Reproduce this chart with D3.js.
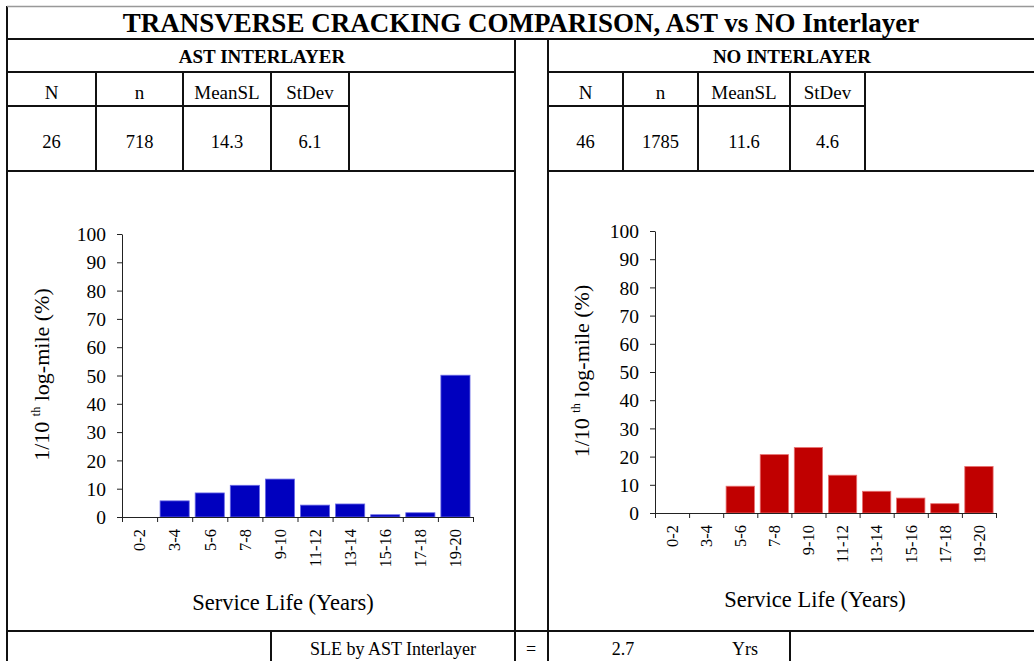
<!DOCTYPE html>
<html>
<head>
<meta charset="utf-8">
<script src="https://cdn.jsdelivr.net/npm/d3@7"></script>
<style>
  body { margin: 0; background: #fff; }
  svg text { font-family: "Liberation Serif", "Times New Roman", serif; fill: #000; }
</style>
</head>
<body>
<div id="app"></div>
<script>
const categories = ['0-2', '3-4', '5-6', '7-8', '9-10', '11-12', '13-14', '15-16', '17-18', '19-20'];
const astValues = [0, 5.7, 8.5, 11.2, 13.4, 4.2, 4.6, 0.8, 1.5, 50.1];
const noValues = [0, 0, 9.5, 20.7, 23.2, 13.4, 7.7, 5.3, 3.3, 16.5];
const yTicks = [0, 10, 20, 30, 40, 50, 60, 70, 80, 90, 100];

const statHeaders = ['N', 'n', 'MeanSL', 'StDev'];
const astStats = ['26', '718', '14.3', '6.1'];
const noStats = ['46', '1785', '11.6', '4.6'];

const width = 1034, height = 661;

const svg = d3.select('#app').append('svg')
  .attr('width', width)
  .attr('height', height);

// table grid
const grid = svg.append('g')
  .attr('stroke', '#111')
  .attr('stroke-width', 2);

const hLines = [
  [7, 1040, 39], [7, 515, 72], [548, 1040, 72],
  [7, 349, 106], [548, 865, 106],
  [7, 515, 171], [548, 1040, 171], [7, 1040, 631]
];
const vLines = [
  [7, 6, 661], [515, 39, 661], [548, 39, 661],
  [96, 72, 171], [183, 72, 171], [271, 72, 171], [349, 72, 171],
  [623, 72, 171], [698, 72, 171], [790, 72, 171], [865, 72, 171],
  [271, 631, 661], [790, 631, 661]
];

svg.append('line')
  .attr('x1', 7).attr('x2', 1034).attr('y1', 6.5).attr('y2', 6.5)
  .attr('stroke', '#999').attr('stroke-width', 1.5);

grid.selectAll('.h').data(hLines).enter().append('line')
  .attr('x1', d => d[0]).attr('x2', d => d[1])
  .attr('y1', d => d[2]).attr('y2', d => d[2]);

grid.selectAll('.v').data(vLines).enter().append('line')
  .attr('x1', d => d[0]).attr('x2', d => d[0])
  .attr('y1', d => d[1]).attr('y2', d => d[2]);

// title and section headings
svg.append('text')
  .attr('x', 521).attr('y', 32)
  .attr('text-anchor', 'middle')
  .style('font-size', '27px').style('font-weight', 'bold')
  .text('TRANSVERSE CRACKING COMPARISON, AST vs NO Interlayer');

svg.append('text')
  .attr('x', 262).attr('y', 63)
  .attr('text-anchor', 'middle')
  .style('font-size', '19px').style('font-weight', 'bold')
  .text('AST INTERLAYER');

svg.append('text')
  .attr('x', 792).attr('y', 63)
  .attr('text-anchor', 'middle')
  .style('font-size', '19px').style('font-weight', 'bold')
  .text('NO INTERLAYER');

// stats cells
function statsBlock(edges, values) {
  const centers = edges.slice(0, -1).map((e, i) => (e + edges[i + 1]) / 2);
  svg.append('g').selectAll('text').data(statHeaders).enter().append('text')
    .attr('x', (d, i) => centers[i]).attr('y', 99)
    .attr('text-anchor', 'middle')
    .style('font-size', '19px')
    .text(d => d);
  svg.append('g').selectAll('text').data(values).enter().append('text')
    .attr('x', (d, i) => centers[i]).attr('y', 148)
    .attr('text-anchor', 'middle')
    .style('font-size', '18.5px')
    .text(d => d);
}
statsBlock([7, 96, 183, 271, 349], astStats);
statsBlock([548, 623, 698, 790, 865], noStats);

// bottom row
svg.append('text').attr('x', 393).attr('y', 655).attr('text-anchor', 'middle')
  .style('font-size', '18px').text('SLE by AST Interlayer');
svg.append('text').attr('x', 531).attr('y', 655).attr('text-anchor', 'middle')
  .style('font-size', '18px').text('=');
svg.append('text').attr('x', 623).attr('y', 655).attr('text-anchor', 'middle')
  .style('font-size', '18px').text('2.7');
svg.append('text').attr('x', 745).attr('y', 655).attr('text-anchor', 'middle')
  .style('font-size', '18px').text('Yrs');

// bar charts
function drawChart(opts) {
  const { values, x0, x1, yTop, yBottom, fill, edge, titleX, xTitleX, xTitleY } = opts;
  const w = x1 - x0, h = yBottom - yTop;
  const g = svg.append('g').attr('transform', 'translate(' + x0 + ',' + yTop + ')');

  const x = d3.scaleBand()
    .domain(categories)
    .range([0, w])
    .paddingInner(0.17)
    .paddingOuter(0.085);

  const y = d3.scaleLinear()
    .domain([0, 100])
    .range([h, 0]);

  g.selectAll('.bar')
    .data(values)
    .enter()
    .append('rect')
    .attr('x', (d, i) => x(categories[i]))
    .attr('width', x.bandwidth())
    .attr('y', d => y(d))
    .attr('height', d => h - y(d))
    .attr('fill', fill)
    .attr('stroke', edge)
    .attr('stroke-width', d => d > 0 ? 0.8 : 0);

  // y axis
  const gy = g.append('g')
    .call(d3.axisLeft(y).tickValues(yTicks).tickSize(5).tickSizeOuter(0).tickPadding(11));
  gy.selectAll('text').style('font-size', '19.5px').attr('dy', '0.34em');

  // x axis: boundary ticks
  const xb = d3.scaleLinear().domain([0, categories.length]).range([0, w]);
  g.append('g')
    .attr('transform', 'translate(0,' + h + ')')
    .call(d3.axisBottom(xb).ticks(categories.length).tickSize(5).tickSizeOuter(0).tickFormat(''));

  // x axis: category labels
  const gx = g.append('g')
    .attr('transform', 'translate(0,' + h + ')')
    .call(d3.axisBottom(x).tickSize(0).tickPadding(0));
  gx.select('.domain').remove();
  gx.selectAll('text')
    .style('font-size', '16.5px')
    .attr('text-anchor', 'end')
    .attr('transform', 'rotate(-90)')
    .attr('x', -12)
    .attr('y', 0)
    .attr('dy', '0.35em');

  svg.selectAll('.domain, .tick line').attr('stroke', '#222');

  // axis titles
  const yt = svg.append('text')
    .attr('transform', 'translate(' + titleX + ',' + (yTop + h / 2 - 1) + ') rotate(-90)')
    .attr('text-anchor', 'middle')
    .style('font-size', '22px');
  yt.append('tspan').text('1/10 ');
  yt.append('tspan').style('font-size', '12px').attr('dy', '-9').text('th');
  yt.append('tspan').attr('dy', '9').text(' log-mile (%)');

  svg.append('text')
    .attr('x', xTitleX)
    .attr('y', xTitleY)
    .attr('text-anchor', 'middle')
    .style('font-size', '22.5px')
    .text('Service Life (Years)');
}

drawChart({
  values: astValues, x0: 122, x1: 473, yTop: 234, yBottom: 517,
  fill: '#0000bf', edge: '#6a6ae6', titleX: 49, xTitleX: 283, xTitleY: 610
});

drawChart({
  values: noValues, x0: 655, x1: 996, yTop: 231, yBottom: 513,
  fill: '#c00000', edge: '#e87070', titleX: 589, xTitleX: 815, xTitleY: 607
});
</script>
</body>
</html>
